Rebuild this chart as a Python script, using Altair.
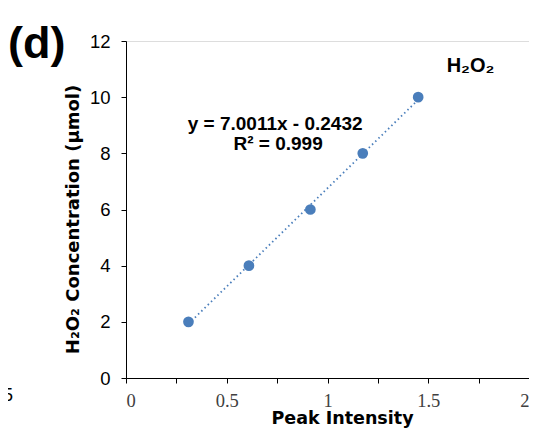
import altair as alt
import pandas as pd

peak_intensity = [0.31, 0.61, 0.915, 1.175, 1.45]
concentration = [2, 4, 6, 8, 10]
slope = 7.0011
intercept = -0.2432
fit_x = [0.31, 1.45]

pts = pd.DataFrame({"x": peak_intensity, "y": concentration})
fit = pd.DataFrame({"x": fit_x, "y": [slope * v + intercept for v in fit_x]})

xs = alt.Scale(domain=[0, 2], nice=False)
ys = alt.Scale(domain=[0, 12], nice=False)

x_axis = alt.Axis(
    title="Peak Intensity", values=[i * 0.25 for i in range(9)],
    labelExpr="(datum.value*2) % 1 == 0 ? datum.label : ''",
    format="~g", grid=False, tickSize=5, tickColor="black", domainColor="black",
    labelFont="Liberation Serif", labelFontSize=18.5, labelColor="#404040", labelPadding=8,
    titleFont="DejaVu Sans", titleFontSize=17.5, titleFontWeight="bold",
    titleColor="black", titleX=216, titleY=40, titleBaseline="middle", titleAlign="center",
)
y_axis = alt.Axis(
    title="H₂O₂ Concentration (μmol)", values=list(range(13)),
    labelExpr="datum.value % 2 == 0 ? datum.label : ''",
    grid=False, tickSize=5, tickColor="black", domainColor="black",
    labelFont="Liberation Sans", labelFontSize=18.5, labelColor="black", labelPadding=11,
    titleFont="DejaVu Sans", titleFontSize=18, titleFontWeight="bold",
    titleColor="black", titleX=-53, titleY=178, titleBaseline="middle", titleAlign="center",
)

line = alt.Chart(fit).mark_line(color="#4A7EBB", strokeDash=[1.5, 3], strokeWidth=1.8).encode(
    x=alt.X("x:Q", scale=xs, axis=x_axis), y=alt.Y("y:Q", scale=ys, axis=y_axis)
)
points = alt.Chart(pts).mark_circle(size=115, color="#4A7EBB", opacity=1).encode(
    x=alt.X("x:Q", scale=xs), y=alt.Y("y:Q", scale=ys)
)

eq = pd.DataFrame({"x": [0.74, 0.755], "y": [9.05, 8.35], "t": ["y = 7.0011x - 0.2432", "R² = 0.999"]})
eq_text = alt.Chart(eq).mark_text(font="Liberation Sans", fontSize=19, fontWeight="bold", color="black").encode(
    x=alt.X("x:Q", scale=xs), y=alt.Y("y:Q", scale=ys), text="t:N"
)
lab = pd.DataFrame({"x": [1.71], "y": [11.1], "t": ["H₂O₂"]})
lab_text = alt.Chart(lab).mark_text(font="Liberation Sans", fontSize=20, fontWeight="bold", color="black").encode(
    x=alt.X("x:Q", scale=xs), y=alt.Y("y:Q", scale=ys), text="t:N"
)

panel = pd.DataFrame({"t": ["(d)"]})
panel_text = alt.Chart(panel).mark_text(
    font="Liberation Sans", fontSize=45, fontWeight="bold", color="black", align="left", baseline="alphabetic"
).encode(x=alt.value(-118), y=alt.value(17), text="t:N")

edge = pd.DataFrame({"t": ["1.5"]})
edge_text = alt.Chart(edge).mark_text(
    font="Liberation Sans", fontSize=18, color="black", align="right", baseline="middle"
).encode(x=alt.value(-113), y=alt.value(355), text="t:N")

chart = alt.layer(line, points, eq_text, lab_text, panel_text, edge_text).properties(
    width=403, height=337,
    autosize=alt.AutoSizeParams(type="none"),
    padding={"left": 118, "top": 33, "right": 0, "bottom": 50},
).configure_view(stroke="black", strokeWidth=1).configure(background="white")

chart.save("out.html", embed_options={"renderer": "svg", "actions": False})
